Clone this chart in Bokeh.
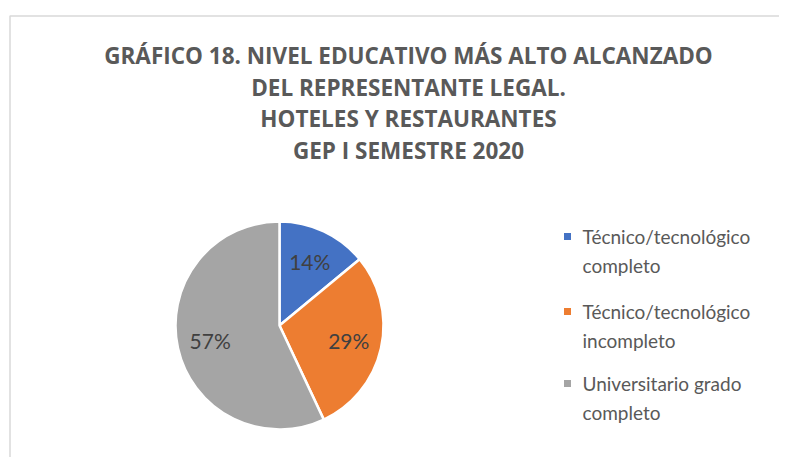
import math
from bokeh.plotting import figure
from bokeh.models import ColumnDataSource, Range1d
from bokeh.core.properties import value
from bokeh.embed import file_html
from bokeh.resources import INLINE

# ---- data ----
categories = ["Técnico/tecnológico completo", "Técnico/tecnológico incompleto", "Universitario grado completo"]
legend_lines = [["Técnico/tecnológico", "completo"], ["Técnico/tecnológico", "incompleto"], ["Universitario grado", "completo"]]
shares = [14, 29, 57]
colors = ["#4472C4", "#ED7D31", "#A5A5A5"]
title_lines = ["GRÁFICO 18. NIVEL EDUCATIVO MÁS ALTO ALCANZADO",
               "DEL REPRESENTANTE LEGAL.",
               "HOTELES Y RESTAURANTES",
               "GEP I SEMESTRE 2020"]

W, H = 779, 457
PAGE_H = 473
def py(page_y):
    return PAGE_H - page_y

p = figure(width=W, height=H, output_backend="svg", toolbar_location=None,
           x_range=Range1d(0, W), y_range=Range1d(PAGE_H - H, PAGE_H),
           min_border=0)
p.axis.visible = False
p.grid.visible = False
p.outline_line_color = None
p.background_fill_color = "white"
p.border_fill_color = "white"

# chart-area border (left and top edges; the rest runs off the picture)
p.line(x=[9.5, 9.5, W + 50], y=[-100, py(15.5), py(15.5)],
       line_color="#D9D9D9", line_width=1.5)

# title
p.text(x=[408] * 4, y=[py(55), py(87), py(118), py(150)], text=title_lines,
       text_font=value("Open Sans"), text_font_style="bold", text_font_size="22.5px",
       text_color="#595959", text_align="center", text_baseline="middle")

# pie
cx, cy, R = 279, py(325), 104
total = sum(shares)
starts, ends, mids = [], [], []
a = math.pi / 2
for s in shares:
    span = 2 * math.pi * s / total
    starts.append(a)
    ends.append(a - span)
    mids.append(a - span / 2)
    a -= span
src = ColumnDataSource(dict(start=starts, end=ends, color=colors, cat=categories))
p.wedge(x=cx, y=cy, radius=R, radius_units="screen", start_angle="start", end_angle="end",
        direction="clock", fill_color="color", line_color="white", line_width=2.5, source=src)

lr = 71
lab = ColumnDataSource(dict(
    x=[cx + lr * math.cos(m) for m in mids],
    y=[cy + lr * math.sin(m) for m in mids],
    t=[f"{s}%" for s in shares]))
p.text(x="x", y="y", text="t", source=lab, text_font=value("Lato"), text_font_size="21px",
       text_color="#404040", text_align="center", text_baseline="middle")

# legend
item_y = [236, 311, 383]
line_gap = 29
p.scatter(x=[567] * 3, y=[py(v) for v in item_y], marker="square", size=7,
          fill_color=colors, line_color=None)
lx, ly, lt = [], [], []
for yy, lines in zip(item_y, legend_lines):
    for k, t in enumerate(lines):
        lx.append(582)
        ly.append(py(yy + k * line_gap))
        lt.append(t)
p.text(x=lx, y=ly, text=lt, text_font=value("Lato"), text_font_size="19px",
       text_color="#595959", text_align="left", text_baseline="middle")

open("out.html", "w").write(file_html(p, INLINE))
